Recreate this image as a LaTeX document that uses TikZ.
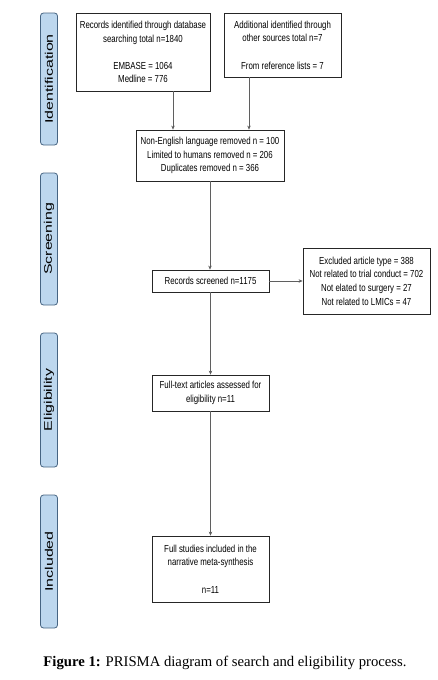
\documentclass[tikz,border=0pt]{standalone}
\usepackage{fontspec}
\setmainfont{Liberation Serif}
\newfontfamily\boxfont[FakeStretch=0.77]{Liberation Sans}
\newfontfamily\barfont[FakeStretch=1.45]{Liberation Sans}
\usetikzlibrary{arrows.meta}
\definecolor{barfill}{RGB}{189,215,238}
\definecolor{barline}{RGB}{70,100,130}
\definecolor{linegray}{RGB}{95,95,95}

\begin{document}
\begin{tikzpicture}[x=1pt,y=1pt,
  box/.style={draw=black!85,line width=0.8pt,fill=white,align=center,inner sep=2pt,
    font=\boxfont\fontsize{10.2}{13.6}\selectfont},
  phase/.style={draw=barline,line width=0.8pt,fill=barfill,rounded corners=3pt,rotate=90,
    minimum height=17pt,inner sep=0pt,font=\barfont\fontsize{11}{13}\selectfont},
  arr/.style={draw=linegray,line width=0.7pt,-{Stealth[length=4pt,width=3.5pt,fill=black]}}]
\useasboundingbox (0,0) rectangle (438,-680);

% fases a la izquierda
\node[phase,minimum width=132pt] (ident) at (49,-79) {Identification};
\node[phase,minimum width=132pt] (screen) at (49,-239) {Screening};
\node[phase,minimum width=134pt] (elig) at (49,-400) {Eligibility};
\node[phase,minimum width=133pt] (incl) at (49,-561.5) {Included};

% cajas
\node[box,minimum width=134pt,minimum height=78pt] (db) at (143,-52)
  {Records identified through database\\searching total n=1840\\[13.6pt]EMBASE = 1064\\Medline = 776};
\node[box,minimum width=117pt,minimum height=64pt] (other) at (282.5,-45)
  {Additional identified through\\other sources total n=7\\[13.6pt]From reference lists = 7};
\node[box,minimum width=148pt,minimum height=51pt] (dup) at (210,-155.5)
  {Non-English language removed n = 100\\Limited to humans removed n = 206\\Duplicates removed n = 366};
\node[box,minimum width=117pt,minimum height=22pt] (scr) at (210.5,-281) {Records screened n=1175};
\node[box,minimum width=127pt,minimum height=66pt] (excl) at (366.5,-281)
  {Excluded article type = 388\\Not related to trial conduct = 702\\Not elated to surgery = 27\\Not related to LMICs = 47};
\node[box,minimum width=117pt,minimum height=36pt] (full) at (210.5,-393)
  {Full-text articles assessed for\\eligibility n=11};
\node[box,minimum width=117pt,minimum height=66pt] (incs) at (210.5,-569)
  {Full studies included in the\\narrative meta-synthesis\\[13.6pt]n=11};

% flechas
\draw[arr] ([xshift=30pt]db.south) -- ([xshift=30pt]db.south |- dup.north);
\draw[arr] ([xshift=-33.5pt]other.south) -- ([xshift=-33.5pt]other.south |- dup.north);
\draw[arr] (dup.south) -- (dup.south |- scr.north);
\draw[arr] (scr.east) -- (excl.west);
\draw[arr] (scr.south) -- (full.north);
\draw[arr] (full.south) -- (incs.north);

% pie de figura
\node[font=\fontsize{14.7}{17}\selectfont] (cap) at (225,-663)
  {\textbf{Figure 1:} PRISMA diagram of search and eligibility process.};
\end{tikzpicture}
\end{document}
